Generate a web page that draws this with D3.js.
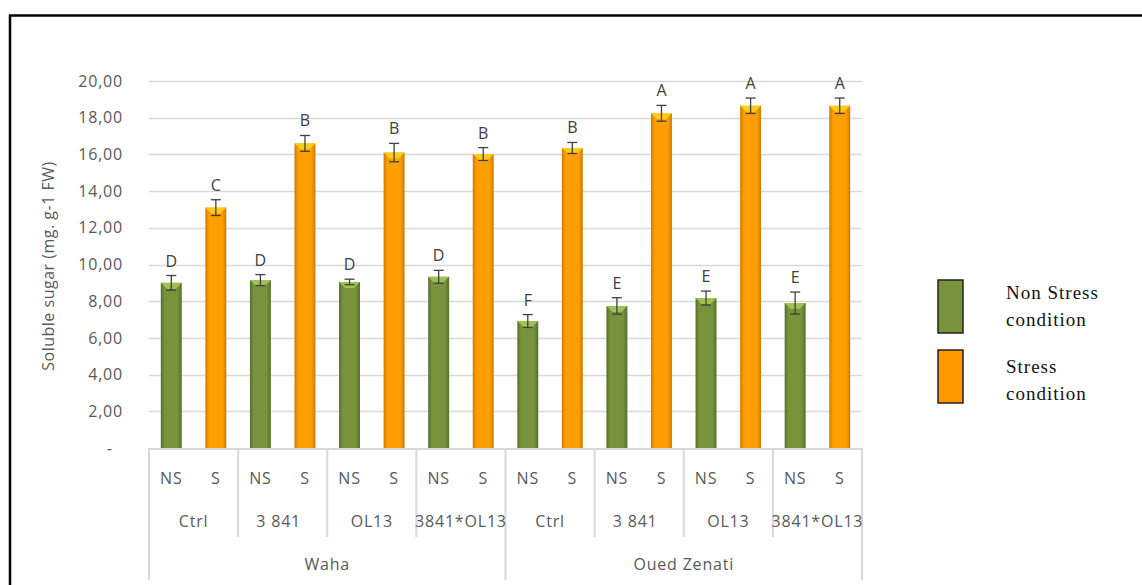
<!DOCTYPE html>
<html>
<head>
<meta charset="utf-8">
<script src="https://cdn.jsdelivr.net/npm/d3@7"></script>
<style>
  body { margin: 0; background: #fff; }
  svg { display: block; }
</style>
</head>
<body>
<div id="chart-container" style="width:1142px;height:585px"></div>
<script>
// Data
const varieties = ["Waha", "Oued Zenati"];
const treatments = ["Ctrl", "3 841", "OL13", "3841*OL13"];
const conditions = ["NS", "S"];
const nsValues = [9.0, 9.15, 9.05, 9.33, 6.92, 7.74, 8.17, 7.9];
const sValues = [13.1, 16.6, 16.1, 16.02, 16.35, 18.24, 18.65, 18.65];
const nsErrors = [0.4, 0.3, 0.15, 0.35, 0.35, 0.45, 0.38, 0.6];
const sErrors = [0.43, 0.43, 0.5, 0.35, 0.3, 0.43, 0.42, 0.42];
const nsLetters = ["D", "D", "D", "D", "F", "E", "E", "E"];
const sLetters = ["C", "B", "B", "B", "B", "A", "A", "A"];
const yTicks = [0, 2, 4, 6, 8, 10, 12, 14, 16, 18, 20];

const width = 1142, height = 585;
const margin = { left: 149, right: 862, top: 81, bottom: 448 };
const textColor = "#595959";
const gridColor = "#d9d9d9";
const font = "'Open Sans', 'Liberation Sans', sans-serif";
const spacing = "0.8px";

// flatten into one bar list
const bars = [];
const groups = [];
varieties.forEach((v, vi) => {
    treatments.forEach((t, ti) => {
        const gi = vi * treatments.length + ti;
        groups.push({ variety: v, treatment: t, key: `${v}|${t}` });
        conditions.forEach(c => {
            bars.push({
                key: `${v}|${t}|${c}`,
                group: `${v}|${t}`,
                cond: c,
                value: c === "NS" ? nsValues[gi] : sValues[gi],
                err: c === "NS" ? nsErrors[gi] : sErrors[gi],
                letter: c === "NS" ? nsLetters[gi] : sLetters[gi]
            });
        });
    });
});

const svg = d3.select("#chart-container")
    .append("svg")
    .attr("width", width)
    .attr("height", height);

const x = d3.scaleBand()
    .domain(bars.map(d => d.key))
    .range([margin.left, margin.right])
    .paddingInner(0.53)
    .paddingOuter(0.265);

const y = d3.scaleLinear()
    .domain([0, 20])
    .range([margin.bottom, margin.top]);

// gradients for a bevelled look
const defs = svg.append("defs");
function makeGrad(id, edge, mid) {
    const g = defs.append("linearGradient").attr("id", id)
        .attr("x1", "0%").attr("x2", "100%").attr("y1", "0%").attr("y2", "0%");
    g.append("stop").attr("offset", "0%").attr("stop-color", edge);
    g.append("stop").attr("offset", "18%").attr("stop-color", mid);
    g.append("stop").attr("offset", "80%").attr("stop-color", mid);
    g.append("stop").attr("offset", "100%").attr("stop-color", edge);
}
makeGrad("gradNS", "#55702a", "#77933c");
makeGrad("gradS", "#cc7a00", "#ff9e00");
const topColor = { NS: "#a8c85a", S: "#ffd21f" };

// outer frame
svg.append("line").attr("x1", 9).attr("x2", width).attr("y1", 15.5).attr("y2", 15.5)
    .attr("stroke", "#000").attr("stroke-width", 2.5);
svg.append("line").attr("x1", 10).attr("x2", 10).attr("y1", 15).attr("y2", height)
    .attr("stroke", "#000").attr("stroke-width", 2.5);

// gridlines
svg.append("g")
    .selectAll("line")
    .data(yTicks.filter(d => d > 0))
    .join("line")
    .attr("x1", margin.left).attr("x2", margin.right)
    .attr("y1", d => Math.round(y(d)) + 0.5).attr("y2", d => Math.round(y(d)) + 0.5)
    .attr("stroke", gridColor).attr("stroke-width", 1.5);

// y axis labels
const fmt = d => d === 0 ? "-" : d3.format(".2f")(d).replace(".", ",");
svg.append("g")
    .selectAll("text")
    .data(yTicks)
    .join("text")
    .attr("x", d => d === 0 ? 113 : 123)
    .attr("y", d => y(d))
    .attr("dy", "0.35em")
    .attr("text-anchor", "end")
    .attr("fill", textColor)
    .style("font", `16px ${font}`)
    .style("letter-spacing", spacing)
    .text(fmt);

svg.append("text")
    .attr("transform", "translate(54,266) rotate(-90)")
    .attr("text-anchor", "middle")
    .attr("fill", textColor)
    .style("font", `16px ${font}`)
    .style("letter-spacing", "0.5px")
    .text("Soluble sugar (mg. g-1 FW)");

// bars
const barG = svg.append("g");
const bw = x.bandwidth();
barG.selectAll("rect")
    .data(bars)
    .join("rect")
    .attr("x", d => x(d.key))
    .attr("y", d => y(d.value))
    .attr("width", bw)
    .attr("height", d => y(0) - y(d.value))
    .attr("fill", d => `url(#grad${d.cond})`);

// top bevel highlight
barG.selectAll("path")
    .data(bars)
    .join("path")
    .attr("d", d => {
        const x0 = x(d.key), x1 = x0 + bw, yt = y(d.value);
        return `M${x0},${yt}L${x1},${yt}L${x1 - 6},${yt + 6}L${x0 + 6},${yt + 6}Z`;
    })
    .attr("fill", d => topColor[d.cond])
    .attr("opacity", 0.85);

// error bars
const errG = svg.append("g").attr("stroke", "#404040").attr("stroke-width", 1.3);
bars.forEach(d => {
    const cx = x(d.key) + bw / 2;
    const y0 = y(d.value - d.err), y1 = y(d.value + d.err);
    errG.append("line").attr("x1", cx).attr("x2", cx).attr("y1", y0).attr("y2", y1);
    errG.append("line").attr("x1", cx - 5).attr("x2", cx + 5).attr("y1", y0).attr("y2", y0);
    errG.append("line").attr("x1", cx - 5).attr("x2", cx + 5).attr("y1", y1).attr("y2", y1);
});

// significance letters
svg.append("g")
    .selectAll("text")
    .data(bars)
    .join("text")
    .attr("x", d => x(d.key) + bw / 2)
    .attr("y", d => y(d.value + d.err) - 9)
    .attr("text-anchor", "middle")
    .attr("fill", "#404040")
    .style("font", `16px ${font}`)
    .text(d => d.letter);

// category axis
const axisG = svg.append("g").attr("stroke", gridColor).attr("stroke-width", 2);
axisG.append("line").attr("x1", margin.left).attr("x2", margin.right)
    .attr("y1", margin.bottom + 1).attr("y2", margin.bottom + 1);

const groupX = d3.scaleBand()
    .domain(groups.map(d => d.key))
    .range([margin.left, margin.right]);
const varX = d3.scaleBand()
    .domain(varieties)
    .range([margin.left, margin.right]);

groups.forEach((g, i) => {
    const gx = groupX(g.key);
    const outer = i % treatments.length === 0;
    axisG.append("line").attr("x1", gx).attr("x2", gx)
        .attr("y1", margin.bottom).attr("y2", outer ? 580 : 537);
});
axisG.append("line").attr("x1", margin.right).attr("x2", margin.right)
    .attr("y1", margin.bottom).attr("y2", 580);

const labels = svg.append("g").attr("fill", textColor)
    .style("font", `16px ${font}`)
    .style("letter-spacing", spacing)
    .attr("text-anchor", "middle");
labels.selectAll(".cond")
    .data(bars)
    .join("text")
    .attr("class", "cond")
    .attr("x", d => x(d.key) + bw / 2)
    .attr("y", 484)
    .text(d => d.cond);
labels.selectAll(".treat")
    .data(groups)
    .join("text")
    .attr("class", "treat")
    .attr("x", d => groupX(d.key) + groupX.bandwidth() / 2 - (d.treatment === "3 841" ? 4 : 0))
    .attr("y", 527)
    .text(d => d.treatment);
labels.selectAll(".var")
    .data(varieties)
    .join("text")
    .attr("class", "var")
    .attr("x", d => varX(d) + varX.bandwidth() / 2)
    .attr("y", 570)
    .text(d => d);

// legend
const legend = svg.append("g").attr("transform", "translate(938,280)");
const legendItems = [
    { cond: "NS", fill: "#77933c", lines: ["Non Stress", "condition"] },
    { cond: "S", fill: "#ff9900", lines: ["Stress", "condition"] }
];
legendItems.forEach((it, i) => {
    const g = legend.append("g").attr("transform", `translate(0,${i * 70})`);
    g.append("rect").attr("width", 25).attr("height", 53)
        .attr("fill", it.fill).attr("stroke", "#222").attr("stroke-width", 1.5);
    g.selectAll("text")
        .data(it.lines)
        .join("text")
        .attr("x", 68)
        .attr("y", (d, j) => 19 + i * 4 + j * 27)
        .attr("fill", "#111")
        .style("font", "19px 'Liberation Serif', 'DejaVu Serif', serif")
        .style("letter-spacing", "1px")
        .text(d => d);
});
</script>
</body>
</html>
